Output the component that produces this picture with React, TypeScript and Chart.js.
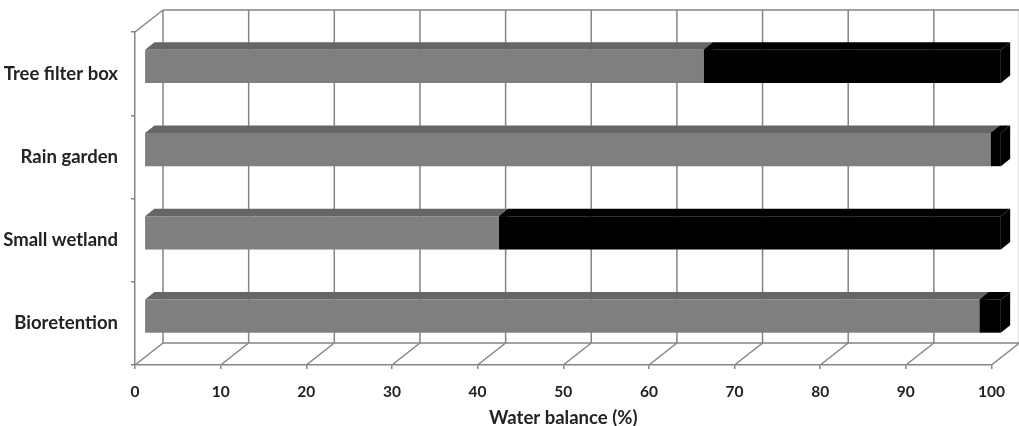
import React, { useEffect, useRef } from "react";
import { Chart, registerables } from "chart.js";

Chart.register(...registerables);

// Water balance of each stormwater practice (percent of inflow)
const practices = ["Tree filter box", "Rain garden", "Small wetland", "Bioretention"];
const retainedShare = [65.3, 98.8, 41.4, 97.5];
const outflowShare = [34.7, 1.2, 58.6, 2.5];
const xTickValues = [0, 10, 20, 30, 40, 50, 60, 70, 80, 90, 100];

// Oblique depth of the 3-D box (pixels) and where the bars sit inside it
const DEPTH_X = 28;
const DEPTH_Y = -22;
const BAR_FRONT = 1 / 3;
const BAR_DEPTH = 1 / 3;

const GRID_COLOR = "#858585";
const TEXT_COLOR = "#222222";
const FONT_FAMILY = "Lato, 'Open Sans', sans-serif";
const LABEL_SIZE = 18.5;
const TICK_SIZE = 15.5;

type Shade = { front: string; top: string; side: string };
const shades: Shade[] = [
  { front: "#7f7f7f", top: "#666666", side: "#555555" },
  { front: "#000000", top: "#000000", side: "#000000" },
];

const boxPlugin = {
  id: "obliqueBox",
  beforeDatasetsDraw(chart: any) {
    const { ctx, chartArea } = chart;
    const { left, right, top, bottom } = chartArea;
    const xs = chart.scales.x;

    ctx.save();
    ctx.strokeStyle = GRID_COLOR;
    ctx.lineWidth = 1.5;
    ctx.beginPath();
    // back wall verticals and floor diagonals
    for (const v of xTickValues) {
      const px = xs.getPixelForValue(v);
      ctx.moveTo(px + DEPTH_X, top + DEPTH_Y);
      ctx.lineTo(px + DEPTH_X, bottom + DEPTH_Y);
      ctx.moveTo(px, bottom);
      ctx.lineTo(px + DEPTH_X, bottom + DEPTH_Y);
    }
    // top and bottom edges of the back wall
    ctx.moveTo(left + DEPTH_X, top + DEPTH_Y);
    ctx.lineTo(right + DEPTH_X, top + DEPTH_Y);
    ctx.moveTo(left + DEPTH_X, bottom + DEPTH_Y);
    ctx.lineTo(right + DEPTH_X, bottom + DEPTH_Y);
    // top edge of the left wall
    ctx.moveTo(left, top);
    ctx.lineTo(left + DEPTH_X, top + DEPTH_Y);
    ctx.stroke();
    ctx.restore();

    // shift into the bar plane, draw top and end faces, leave shifted for the front faces
    const fx = DEPTH_X * BAR_FRONT;
    const fy = DEPTH_Y * BAR_FRONT;
    const bx = DEPTH_X * BAR_DEPTH;
    const by = DEPTH_Y * BAR_DEPTH;
    ctx.save();
    ctx.translate(fx, fy);
    chart.data.datasets.forEach((_ds: any, di: number) => {
      const meta = chart.getDatasetMeta(di);
      const shade = shades[di];
      meta.data.forEach((bar: any) => {
        const x0 = Math.min(bar.base, bar.x);
        const x1 = Math.max(bar.base, bar.x);
        const yT = bar.y - bar.height / 2;
        const yB = bar.y + bar.height / 2;
        ctx.fillStyle = shade.top;
        ctx.beginPath();
        ctx.moveTo(x0, yT);
        ctx.lineTo(x1, yT);
        ctx.lineTo(x1 + bx, yT + by);
        ctx.lineTo(x0 + bx, yT + by);
        ctx.closePath();
        ctx.fill();
        ctx.fillStyle = shade.side;
        ctx.beginPath();
        ctx.moveTo(x1, yT);
        ctx.lineTo(x1 + bx, yT + by);
        ctx.lineTo(x1 + bx, yB + by);
        ctx.lineTo(x1, yB);
        ctx.closePath();
        ctx.fill();
      });
    });
  },
  afterDatasetsDraw(chart: any) {
    chart.ctx.restore();
  },
};

export default function App() {
  const canvasRef = useRef<HTMLCanvasElement | null>(null);

  useEffect(() => {
    if (!canvasRef.current) return;
    const chart = new Chart(canvasRef.current, {
      type: "bar",
      data: {
        labels: practices,
        datasets: [
          {
            label: "Retained",
            data: retainedShare,
            backgroundColor: shades[0].front,
            borderWidth: 0,
            barPercentage: 0.4,
            categoryPercentage: 1,
            clip: false,
          },
          {
            label: "Outflow",
            data: outflowShare,
            backgroundColor: shades[1].front,
            borderWidth: 0,
            barPercentage: 0.4,
            categoryPercentage: 1,
            clip: false,
          },
        ],
      },
      options: {
        indexAxis: "y",
        animation: false,
        responsive: false,
        layout: { padding: { left: 0, right: 25, top: 32, bottom: 0 } },
        plugins: {
          legend: { display: false },
          tooltip: { enabled: false },
        },
        scales: {
          x: {
            type: "linear",
            stacked: true,
            min: 0,
            max: 100,
            ticks: {
              stepSize: 10,
              padding: 14,
              color: TEXT_COLOR,
              font: { family: FONT_FAMILY, weight: "bold", size: TICK_SIZE },
            },
            grid: {
              display: true,
              drawOnChartArea: false,
              drawTicks: true,
              tickLength: 4,
              color: GRID_COLOR,
              lineWidth: 1.5,
            },
            border: { display: true, color: GRID_COLOR, width: 1.5 },
            title: {
              display: true,
              text: "Water balance (%)",
              color: TEXT_COLOR,
              font: { family: FONT_FAMILY, weight: "bold", size: LABEL_SIZE, lineHeight: 1 },
              padding: { top: 0, bottom: -1 },
            },
            afterFit(scale: any) {
              scale.height = 61;
            },
          },
          y: {
            type: "category",
            stacked: true,
            ticks: {
              padding: 13,
              color: TEXT_COLOR,
              font: { family: FONT_FAMILY, weight: "bold", size: LABEL_SIZE },
            },
            grid: {
              display: true,
              drawOnChartArea: false,
              drawTicks: true,
              tickLength: 4,
              color: GRID_COLOR,
              lineWidth: 1.5,
            },
            border: { display: true, color: GRID_COLOR, width: 1.5 },
            afterFit(scale: any) {
              scale.width = 135;
            },
          },
        },
      },
      plugins: [boxPlugin],
    } as any);
    return () => chart.destroy();
  }, []);

  return (
    <div style={{ position: "fixed", left: 0, top: 0, width: 1019, height: 426, background: "#ffffff" }}>
      <canvas ref={canvasRef} width={1019} height={426} />
    </div>
  );
}
